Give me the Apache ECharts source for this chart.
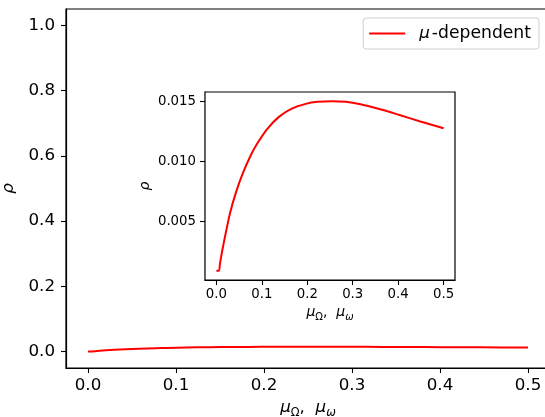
<!DOCTYPE html>
<html>
<head>
<meta charset="utf-8">
<script src="https://cdn.jsdelivr.net/npm/echarts@6/dist/echarts.min.js"></script>
<style>html,body{margin:0;padding:0;background:#fff}#c{width:545px;height:417px}</style>
</head>
<body>
<div id="c"></div>
<script>
const xs = [0, 0.0057, 0.008, 0.0132, 0.0205, 0.030, 0.0426, 0.0574, 0.077, 0.0896, 0.1117, 0.1376, 0.167, 0.1966, 0.222, 0.2554, 0.285, 0.3144, 0.3586, 0.4028, 0.447, 0.5];
const rho = [0.00092, 0.00092, 0.00153, 0.00264, 0.00403, 0.0057, 0.00737, 0.00895, 0.01062, 0.01148, 0.0127, 0.01371, 0.01441, 0.01479, 0.01496, 0.01502, 0.01496, 0.01478, 0.01437, 0.01387, 0.01335, 0.01276];
const mainXTicks = [0, 0.1, 0.2, 0.3, 0.4, 0.5];
const mainYTicks = [0, 0.2, 0.4, 0.6, 0.8, 1.0];
const insetXTicks = [0, 0.1, 0.2, 0.3, 0.4, 0.5];
const insetYTicks = [0.005, 0.010, 0.015];
const seriesName = 'μ-dependent';

const F = 'DejaVu Sans';
const pts = xs.map((x, i) => [x, rho[i]]);

function nameRich(size, sub) {
  return {
    m: {fontSize: size, fontStyle: 'italic', fontFamily: F, color: '#000', lineHeight: size + 6},
    s: {fontSize: sub, fontFamily: F, color: '#000', lineHeight: sub, verticalAlign: 'bottom'},
    si: {fontSize: sub, fontStyle: 'italic', fontFamily: F, color: '#000', lineHeight: sub, verticalAlign: 'bottom'},
    c: {fontSize: size, fontFamily: F, color: '#000', lineHeight: size + 6}
  };
}
const xName = '{m|μ}{s|Ω}{c|,  }{m|μ}{si|ω}';

function xAxis(grid, ticks, min, max, fs, margin, gap, nameFs, subFs) {
  return {
    type: 'value', gridIndex: grid, min: min, max: max,
    splitLine: {show: false},
    axisLine: {show: true, onZero: false, lineStyle: {color: '#000', width: 1.2}},
    axisTick: {show: true, length: 5, lineStyle: {color: '#000', width: 1.1}, customValues: ticks},
    axisLabel: {customValues: ticks, color: '#000', fontSize: fs, fontFamily: F, margin: margin,
      formatter: v => v.toFixed(1)},
    name: xName, nameLocation: 'middle', nameGap: gap,
    nameTextStyle: {rich: nameRich(nameFs, subFs)}
  };
}
function yAxis(grid, ticks, min, max, fs, margin, gap, nameFs, dec) {
  return {
    type: 'value', gridIndex: grid, min: min, max: max,
    splitLine: {show: false},
    axisLine: {show: true, onZero: false, lineStyle: {color: '#000', width: 1.2}},
    axisTick: {show: true, length: 5, lineStyle: {color: '#000', width: 1.1}, customValues: ticks},
    axisLabel: {customValues: ticks, color: '#000', fontSize: fs, fontFamily: F, margin: margin,
      formatter: v => v.toFixed(dec)},
    name: 'ρ', nameLocation: 'middle', nameGap: gap,
    nameTextStyle: {fontSize: nameFs, fontStyle: 'italic', fontFamily: F, color: '#000'}
  };
}

const chart = echarts.init(document.getElementById('c'), null, {renderer: 'canvas'});
chart.setOption({
  animation: false,
  backgroundColor: '#fff',
  grid: [
    {left: 66, top: 9, right: -5, bottom: 49, show: true, borderColor: '#000', borderWidth: 1.2, backgroundColor: '#fff', containLabel: false, outerBoundsMode: 'none'},
    {left: 205, top: 92, right: 90, bottom: 137, show: true, borderColor: '#000', borderWidth: 1.2, backgroundColor: '#fff', z: 5, containLabel: false, outerBoundsMode: 'none'}
  ],
  xAxis: [
    xAxis(0, mainXTicks, -0.025, 0.525, 16.7, 9, 28, 16.7, 11.5),
    xAxis(1, insetXTicks, -0.025, 0.525, 13.3, 8, 22, 14, 10)
  ],
  yAxis: [
    yAxis(0, mainYTicks, -0.05, 1.05, 16.7, 11, 46, 16.7, 1),
    yAxis(1, insetYTicks, 0.000142, 0.01578, 13.3, 9, 53, 14, 3)
  ],
  legend: {
    data: [{name: seriesName, icon: 'rect'}],
    right: 6, top: 18,
    itemWidth: 36, itemHeight: 2,
    padding: [7, 8, 7, 6],
    backgroundColor: '#fff', borderColor: '#d0d0d0', borderWidth: 1, borderRadius: 3,
    formatter: () => '{i|μ}{t|-dependent}',
    textStyle: {
      rich: {
        i: {fontSize: 16.7, fontStyle: 'italic', fontFamily: F, color: '#000', padding: [0, 2, 0, 9]},
        t: {fontSize: 17.2, fontFamily: F, color: '#000'}
      }
    }
  },
  series: [
    {name: seriesName, type: 'line', xAxisIndex: 0, yAxisIndex: 0, data: pts, showSymbol: false,
      smooth: 0.25, lineStyle: {color: '#ff0000', width: 2}, itemStyle: {color: '#ff0000'}},
    {name: 'inset', type: 'line', xAxisIndex: 1, yAxisIndex: 1, data: pts, showSymbol: false, z: 6,
      smooth: 0.25, lineStyle: {color: '#ff0000', width: 2}, itemStyle: {color: '#ff0000'}}
  ]
});
</script>
</body>
</html>
